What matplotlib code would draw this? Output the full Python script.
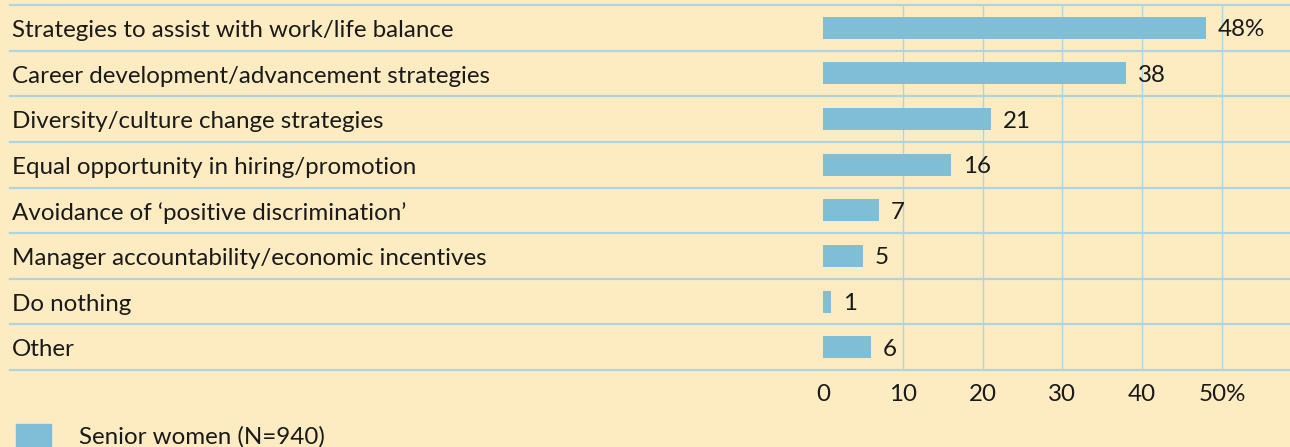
import matplotlib
matplotlib.use("Agg")
import matplotlib.pyplot as plt
from matplotlib.patches import Rectangle

# data
categories = [
    "Strategies to assist with work/life balance",
    "Career development/advancement strategies",
    "Diversity/culture change strategies",
    "Equal opportunity in hiring/promotion",
    "Avoidance of \u2018positive discrimination\u2019",
    "Manager accountability/economic incentives",
    "Do nothing",
    "Other",
]
values = [48, 38, 21, 16, 7, 5, 1, 6]
value_labels = ["48%", "38", "21", "16", "7", "5", "1", "6"]
ticks = [0, 10, 20, 30, 40, 50]
tick_labels = ["0", "10", "20", "30", "40", "50%"]
legend_label = "Senior women (N=940)"

bg = "#fdebc2"
bar_col = "#80bed8"
grid_col = "#acd5e0"
txt_col = "#1a1a1a"

plt.rcParams["font.family"] = ["Lato", "DejaVu Sans"]
fs = 17.4
px = 0.72  # points per pixel at dpi 100

W, H = 1290, 447
fig = plt.figure(figsize=(W / 100, H / 100), dpi=100, facecolor=bg)

# axes spans from x=10px to right edge, y=5px to 370px
ax = fig.add_axes([10 / W, (H - 370) / H, (W - 10) / W, 365 / H])
ax.set_facecolor(bg)
unit = 7.98  # px per percent
x0 = -(823 - 10) / unit
x1 = (W - 823) / unit
ax.set_xlim(x0, x1)
ax.set_ylim(len(categories) - 0.5, -0.5)

ypos = list(range(len(categories)))
ax.barh(ypos, values, height=0.48, color=bar_col, zorder=3)

for t in ticks[1:]:
    ax.axvline(t, color=grid_col, lw=1.0, zorder=1)
for k in range(len(categories) + 1):
    ax.axhline(k - 0.5, color=grid_col, lw=1.6, zorder=1, clip_on=False)

for y, cat in zip(ypos, categories):
    ax.annotate(cat, (2 / (W - 10), y), xycoords=("axes fraction", "data"),
                xytext=(0, -9.2 * px), textcoords="offset points",
                ha="left", va="baseline", fontsize=fs, color=txt_col)
for y, v, lab in zip(ypos, values, value_labels):
    ax.annotate(lab, (v, y), xytext=(12 * px, -8.5 * px), textcoords="offset points",
                ha="left", va="baseline", fontsize=fs, color=txt_col)

for s in ax.spines.values():
    s.set_visible(False)
ax.set_yticks([])
ax.set_xticks([])
for t, lab in zip(ticks, tick_labels):
    ax.annotate(lab, (t, 0), xycoords=("data", "axes fraction"),
                xytext=(0, -31 * px), textcoords="offset points",
                ha="center", va="baseline", fontsize=fs, color=txt_col,
                annotation_clip=False)

# legend
fig.patches.append(Rectangle((16 / W, 0), 35 / W, (H - 424) / H,
                             transform=fig.transFigure, color=bar_col))
fig.text(79 / W, (H - 444) / H, legend_label, ha="left", va="baseline",
         fontsize=fs, color=txt_col)

fig.savefig("out.png", dpi=100, facecolor=bg)
